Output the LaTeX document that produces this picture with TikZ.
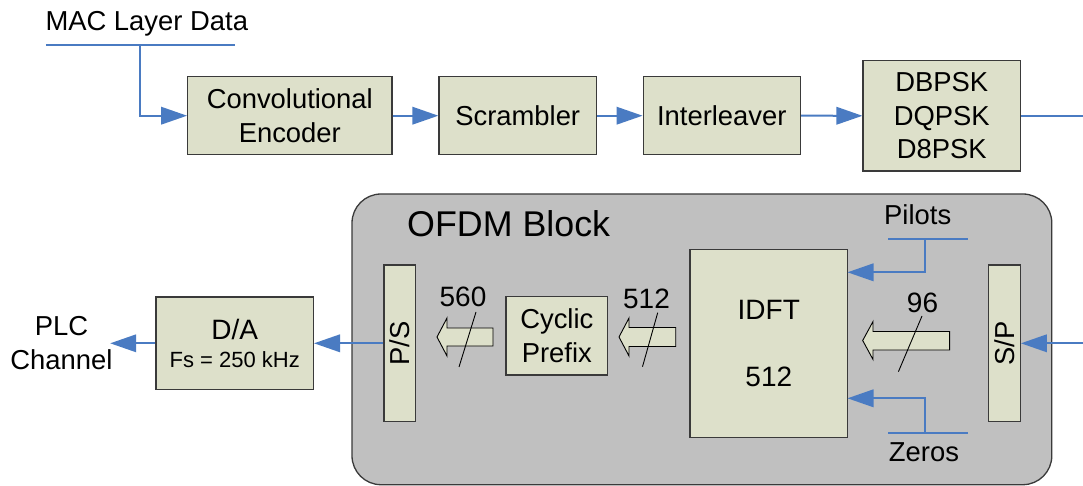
\documentclass[tikz,border=0pt]{standalone}
\usepackage{fontspec}
\setmainfont{Liberation Sans}
\usepackage{graphicx}
\usetikzlibrary{arrows.meta}

\definecolor{boxfill}{HTML}{DDE0CA}
\definecolor{boxline}{HTML}{3A3A3A}
\definecolor{panelfill}{HTML}{C0C0C0}
\definecolor{flowblue}{HTML}{4A7BC2}

\newcommand{\txt}[1]{\fontsize{#1}{33.3}\selectfont}

\tikzset{
  blk/.style={draw=boxline, fill=boxfill, line width=1.3pt, inner sep=0pt,
              align=center, font=\txt{27.4}},
  flow/.style={draw=flowblue, line width=2pt,
               -{Triangle[length=26pt,width=17.5pt,fill=flowblue]}},
  wire/.style={draw=flowblue, line width=2pt},
  bus/.style={draw=black, fill=boxfill, line width=0.9pt, line join=miter},
  slash/.style={draw=black, line width=0.9pt},
  lbl/.style={inner sep=0pt, font=\txt{27.4}},
}

\begin{document}
\begin{tikzpicture}[x=1pt, y=-1pt]
  \useasboundingbox (0,0) rectangle (1083,486);

  % OFDM panel
  \node[draw=boxline, fill=panelfill, line width=1.3pt, rounded corners=29pt,
        minimum width=699.8pt, minimum height=290.7pt, inner sep=0pt]
        (ofdm) at (701.9,339.35) {};
  \node[lbl, anchor=base west, font=\txt{35.8}] (ofdmtitle) at (407,236.7) {OFDM Block};

  % top chain
  \node[lbl, anchor=base west] (mac) at (45.3,30.7) {MAC Layer Data};
  \node[blk, minimum width=204.2pt, minimum height=78pt] (conv) at (289.8,115.7)
        {Convolutional\\Encoder};
  \node[blk, minimum width=157.4pt, minimum height=78pt] (scr) at (517.7,115.7) {Scrambler};
  \node[blk, minimum width=157.2pt, minimum height=78pt] (intl) at (721.8,115.7) {Interleaver};
  \node[blk, minimum width=157.3pt, minimum height=110.3pt] (mod) at (941.7,115.8)
        {DBPSK\\DQPSK\\D8PSK};

  % bottom chain
  \node[lbl, align=center] (plc) at (61.5,343) {PLC\\Channel};
  \node[blk, minimum width=157.4pt, minimum height=92.7pt, font=\fontsize{28}{27.7}\selectfont]
        (da) at (234.7,343.3) {D/A\\{\fontsize{22}{27.7}\selectfont Fs = 250 kHz}};
  \node[blk, minimum width=31.6pt, minimum height=156.7pt] (ps) at (399.8,343.3)
        {\rotatebox{90}{P/S}};
  \node[blk, minimum width=101.5pt, minimum height=78.3pt] (cp) at (556.8,335.8)
        {Cyclic\\Prefix};
  \node[blk, minimum width=157.5pt, minimum height=188.4pt, font=\fontsize{28}{66.7}\selectfont]
        (idft) at (768.8,343.5) {IDFT\\512};
  \node[blk, minimum width=31.9pt, minimum height=156.7pt] (sp) at (1004.3,343.3)
        {\rotatebox{90}{S/P}};

  \node[lbl, anchor=base] (pilots) at (917.7,225) {Pilots};
  \node[lbl, anchor=base] (zeros) at (924,461.7) {Zeros};

  % wire end points
  \coordinate (macL) at (45.8,45);
  \coordinate (macR) at (235.2,45);
  \coordinate (macT) at (140.2,45);
  \coordinate (modout) at (1083,115.8);
  \coordinate (spin) at (1083,343.3);
  \coordinate (plcin) at (110.2,343.3);
  \coordinate (pilL) at (888,239);
  \coordinate (pilR) at (968.3,239);
  \coordinate (pilT) at (925.4,239);
  \coordinate (pilIn) at (847.5,272.3);
  \coordinate (zerL) at (888,433.3);
  \coordinate (zerR) at (968.3,433.3);
  \coordinate (zerT) at (925.4,433.3);
  \coordinate (zerIn) at (847.5,398.3);

  % blue signal flow
  \draw[wire] (macL) -- (macR);
  \draw[flow] (macT) |- (conv.west);
  \draw[flow] (conv.east) -- (scr.west);
  \draw[flow] (scr.east) -- (intl.west);
  \draw[flow] (intl.east) -- (mod.west);
  \draw[wire] (mod.east) -- (modout);
  \draw[flow] (spin) -- (sp.east);
  \draw[flow] (ps.west) -- (da.east |- ps.west);
  \draw[flow] (da.west) -- (plcin);
  \draw[wire] (pilL) -- (pilR);
  \draw[flow] (pilT) |- (pilIn);
  \draw[wire] (zerL) -- (zerR);
  \draw[flow] (zerT) |- (zerIn);

  % parallel buses (hollow arrows) with width marks
  \draw[bus] (437,337) -- (447,318) -- (447,328) -- (493,328) -- (493,346)
             -- (447,346) -- (447,356) -- cycle;
  \draw[slash] (476,312) -- (459,367);
  \node[lbl, anchor=base, font=\txt{28}] (n560) at (463,306.7) {560};

  \draw[bus] (619,337) -- (629,318) -- (629,327.5) -- (675.7,327.5) -- (675.7,346.5)
             -- (629,346.5) -- (629,356) -- cycle;
  \draw[slash] (657.7,312.7) -- (642.5,366.7);
  \node[lbl, anchor=base, font=\txt{28}] (n512) at (646.5,308.3) {512};

  \draw[bus] (862.7,340.5) -- (873,321.5) -- (873,331.5) -- (949.6,331.5) -- (949.6,350)
             -- (873,350) -- (873,359.5) -- cycle;
  \draw[slash] (922,316) -- (898.4,371.7);
  \node[lbl, anchor=base, font=\txt{28}] (n96) at (922.5,312.7) {96};
\end{tikzpicture}
\end{document}
